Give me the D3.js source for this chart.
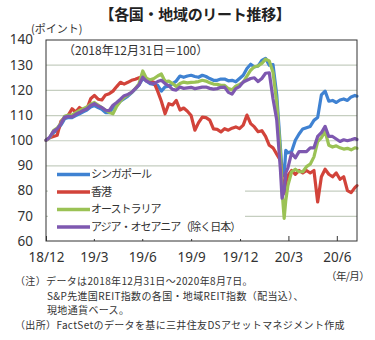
<!DOCTYPE html>
<html><head><meta charset="utf-8">
<script src="https://cdn.jsdelivr.net/npm/d3@7/dist/d3.min.js"></script>
<style>
html,body{margin:0;padding:0;background:#fff;}
svg{display:block;}
</style></head>
<body>
<svg id="chart" width="375" height="340"></svg>
<script>
// ---- data ----
const dates = [
"2018-12-31","2019-01-07","2019-01-14","2019-01-21","2019-01-28","2019-02-04","2019-02-11","2019-02-18","2019-02-25","2019-03-04",
"2019-03-11","2019-03-18","2019-03-25","2019-04-01","2019-04-08","2019-04-15","2019-04-22","2019-04-29","2019-05-06","2019-05-13",
"2019-05-20","2019-05-27","2019-06-03","2019-06-10","2019-06-17","2019-06-24","2019-07-01","2019-07-08","2019-07-15","2019-07-22",
"2019-07-29","2019-08-05","2019-08-12","2019-08-19","2019-08-26","2019-09-02","2019-09-09","2019-09-16","2019-09-23","2019-09-30",
"2019-10-07","2019-10-14","2019-10-21","2019-10-28","2019-11-04","2019-11-11","2019-11-18","2019-11-25","2019-12-02","2019-12-09",
"2019-12-16","2019-12-23","2019-12-30","2020-01-06","2020-01-13","2020-01-20","2020-01-27","2020-02-03","2020-02-10","2020-02-17",
"2020-02-24","2020-03-02","2020-03-09","2020-03-16","2020-03-19","2020-03-23","2020-03-26",
"2020-03-30","2020-04-06","2020-04-13","2020-04-20","2020-04-27",
"2020-05-04","2020-05-11","2020-05-18","2020-05-25","2020-06-01","2020-06-08","2020-06-15","2020-06-22","2020-06-29","2020-07-06",
"2020-07-13","2020-07-20","2020-07-27","2020-08-03","2020-08-07"
];
const singapore = [
100,101,103,104,106,108.5,109,109,109.8,110.5,
111.3,112,113.2,113.8,113,112.3,111,111,112.8,114,
115.5,116.5,117.5,118.8,120.3,122,124.5,123.5,122.5,122.2,
121.8,119.5,121.2,121.5,122.5,123.5,125.5,125,125.5,125.8,
125.3,125,125.8,125.3,124.5,123.8,123.8,124.3,124.3,123.6,
123.8,123.2,124.5,125.8,128.5,130.2,129.1,129.5,131.7,132.5,
129.8,130,118,97,88,86,96,
95,95.5,100,102.5,104.5,
105,105.5,107.9,109,118,119.5,115.5,115.8,115,116,
116.4,115.8,117.2,117.8,117.5
];
const hongKong = [
100,101,101.5,102,107.5,109,110,112.5,111.2,113,
112,112.5,116.5,117.8,116.3,116,118,118.5,119.5,121.3,
123,122.3,123,123.8,124.2,124.8,125.2,124.5,123.5,123,
119.5,115.5,110.5,114.5,114,115.8,112,112.8,111.5,109.8,
104,107,109.2,109,108,104.5,104.3,103.3,104.6,104,
104.8,105.3,104.6,106,110,106.6,105.3,103.4,103.8,101.5,
98,97,94.5,92,85,79,83,
86,88,86.5,88,87,
88,87,88,75.5,85.5,88.5,86.5,85.5,87,84.5,
85.5,80,79.2,81.2,82
];
const australia = [
100,101,103.8,104.8,106.8,109.5,110,110,111,111.8,
112.5,113.2,114.3,115,114,113,112,111,110.5,113.5,
115.5,117,118,119,120.5,122.5,127.5,124.5,124,124.5,
125.5,126.3,123.3,123.5,122.5,121.3,122.5,123.1,122.8,123,
123.1,123.3,123.8,123.5,122.8,122.3,122.2,121.8,121.8,120.5,
120,121.5,122.2,123,125.5,127.8,129.2,129.5,130.5,132.2,
131.5,127,115,95,80,69,76,
82,87.5,88.5,87.5,87.5,
89.5,90.5,93.4,99.5,101,103.5,98,97.3,97.8,97,
96.5,96.8,96.2,97,96.8
];
const asiaOceania = [
100,101.2,103.5,104.5,106.5,109.2,109.5,109.3,110.3,111,
111.8,112.5,113.8,114.5,113.6,113,111.9,111.8,113.9,115,
116.3,117.7,118.2,119,120.5,122,125,123.5,122.8,122.5,
123.3,123.8,122.5,121.6,120.2,119.9,121.1,120.6,120.8,121,
120.5,120.8,121.1,121.1,120.6,120.3,120.5,121,121.1,119,
118.3,120.5,121.3,123.1,123.8,124.5,124.8,123.3,124.5,126.6,
126.8,116.5,108,88,77,80,87,
89,95,93,95.5,95.5,
95.5,97,97,101.5,103,105.5,101.5,101.5,100.5,99.5,
100.2,99.8,100.2,100.7,100.3
];
const seriesNames = ["シンガポール","香港","オーストラリア","アジア・オセアニア（除く日本）"];
const seriesColors = ["#3f82d2","#d2433a","#9bc255","#7e58b0"];
const yTicks = [60,70,80,90,100,110,120,130,140];
const xTickDates = ["2018-12-31","2019-03-31","2019-06-30","2019-09-30","2019-12-31","2020-03-31","2020-06-30"];
const xTickLabels = ["18/12","19/3","19/6","19/9","19/12","20/3","20/6"];
const noteLines = [
  "（注）データは2018年12月31日～2020年8月7日。",
  "S&P先進国REIT指数の各国・地域REIT指数（配当込）、",
  "現地通貨ベース。",
  "（出所）FactSetのデータを基に三井住友DSアセットマネジメント作成"
];

// ---- chart ----
const parse = d3.timeParse("%Y-%m-%d");
const svg = d3.select("#chart");
const L = 46, R = 357, T = 40, B = 241;
const x = d3.scaleTime().domain([parse("2018-12-31"), parse("2020-08-07")]).range([L, R]);
const y = d3.scaleLinear().domain([60, 140]).range([B, 39.5]);
const jp = "'Noto Sans CJK JP','Noto Sans',sans-serif";
const num = "'Noto Sans','DejaVu Sans',sans-serif";
const txt = "#333";

// title
svg.append("text").attr("x", 195).attr("y", 20).attr("text-anchor", "middle")
  .attr("font-family", jp).attr("font-weight", "bold").attr("font-size", 15)
  .attr("letter-spacing", -0.3).attr("fill", "#222").text("【各国・地域のリート推移】");
svg.append("text").attr("x", 31).attr("y", 33).attr("font-family", jp).attr("font-size", 11)
  .attr("fill", txt).text("(ポイント)");

// grid
svg.append("g").attr("transform", `translate(${L},0)`)
  .call(d3.axisLeft(y).tickValues(yTicks.slice(1, -1)).tickSize(-(R - L)).tickFormat(""))
  .call(g => g.select(".domain").remove())
  .call(g => g.selectAll("line").attr("stroke", "#c5cec0").attr("stroke-width", 1.2));

// y labels
svg.append("g").attr("transform", `translate(${L},0)`)
  .call(d3.axisLeft(y).tickValues(yTicks).tickSize(0).tickPadding(13))
  .call(g => g.select(".domain").remove())
  .call(g => g.selectAll("text").attr("font-family", num).attr("font-size", 13.5).attr("fill", txt));

// x axis
const xa = svg.append("g").attr("transform", `translate(0,${B})`)
  .call(d3.axisBottom(x).tickValues(xTickDates.map(parse)).tickSizeInner(-5).tickSizeOuter(0).tickPadding(11)
    .tickFormat((d, i) => xTickLabels[i]));
xa.select(".domain").remove();
xa.selectAll("line").attr("stroke", "#333");
xa.selectAll("text").attr("font-family", num).attr("font-size", 13.5).attr("fill", txt);

svg.append("text").attr("x", 63).attr("y", 55).attr("font-family", jp).attr("font-size", 12)
  .attr("fill", txt).text("（2018年12月31日＝100）");

// lines
const series = [singapore, hongKong, australia, asiaOceania];
const line = d3.line().x(d => x(d.date)).y(d => y(d.v)).curve(d3.curveLinear);
series.forEach((vals, i) => {
  const data = vals.map((v, j) => ({date: parse(dates[j]), v}));
  svg.append("path").datum(data).attr("d", line).attr("fill", "none")
    .attr("stroke", seriesColors[i]).attr("stroke-width", 3.2)
    .attr("stroke-linejoin", "round").attr("stroke-linecap", "round");
});

// legend
svg.append("rect").attr("x", 48).attr("y", 167).attr("width", 197).attr("height", 72).attr("fill", "#fff");
const ly = [174.5, 192, 209.5, 227];
seriesNames.forEach((n, i) => {
  svg.append("line").attr("x1", 57).attr("x2", 90).attr("y1", ly[i]).attr("y2", ly[i])
    .attr("stroke", seriesColors[i]).attr("stroke-width", 3.5);
  svg.append("text").attr("x", 91).attr("y", ly[i]).attr("dy", "0.36em")
    .attr("font-family", jp).attr("font-size", 11).attr("letter-spacing", -1)
    .attr("fill", txt).text(n);
});

// frame
svg.append("rect").attr("x", L).attr("y", T).attr("width", R - L).attr("height", B - T)
  .attr("fill", "none").attr("stroke", "#333").attr("stroke-width", 1);

// notes
svg.append("text").attr("x", 326).attr("y", 279.5).attr("font-family", jp).attr("font-size", 10.5)
  .attr("letter-spacing", -0.6).attr("fill", txt).text("（年/月）");
const nx = [15, 47, 47, 15];
const nyy = [285, 299.6, 314.2, 328.8];
const notesText = svg.append("text").attr("font-family", jp).attr("font-size", 10)
  .attr("letter-spacing", 0.35).attr("fill", txt);
noteLines.forEach((t, i) => notesText.append("tspan").attr("x", nx[i]).attr("y", nyy[i]).text(t));
</script>
</body></html>
